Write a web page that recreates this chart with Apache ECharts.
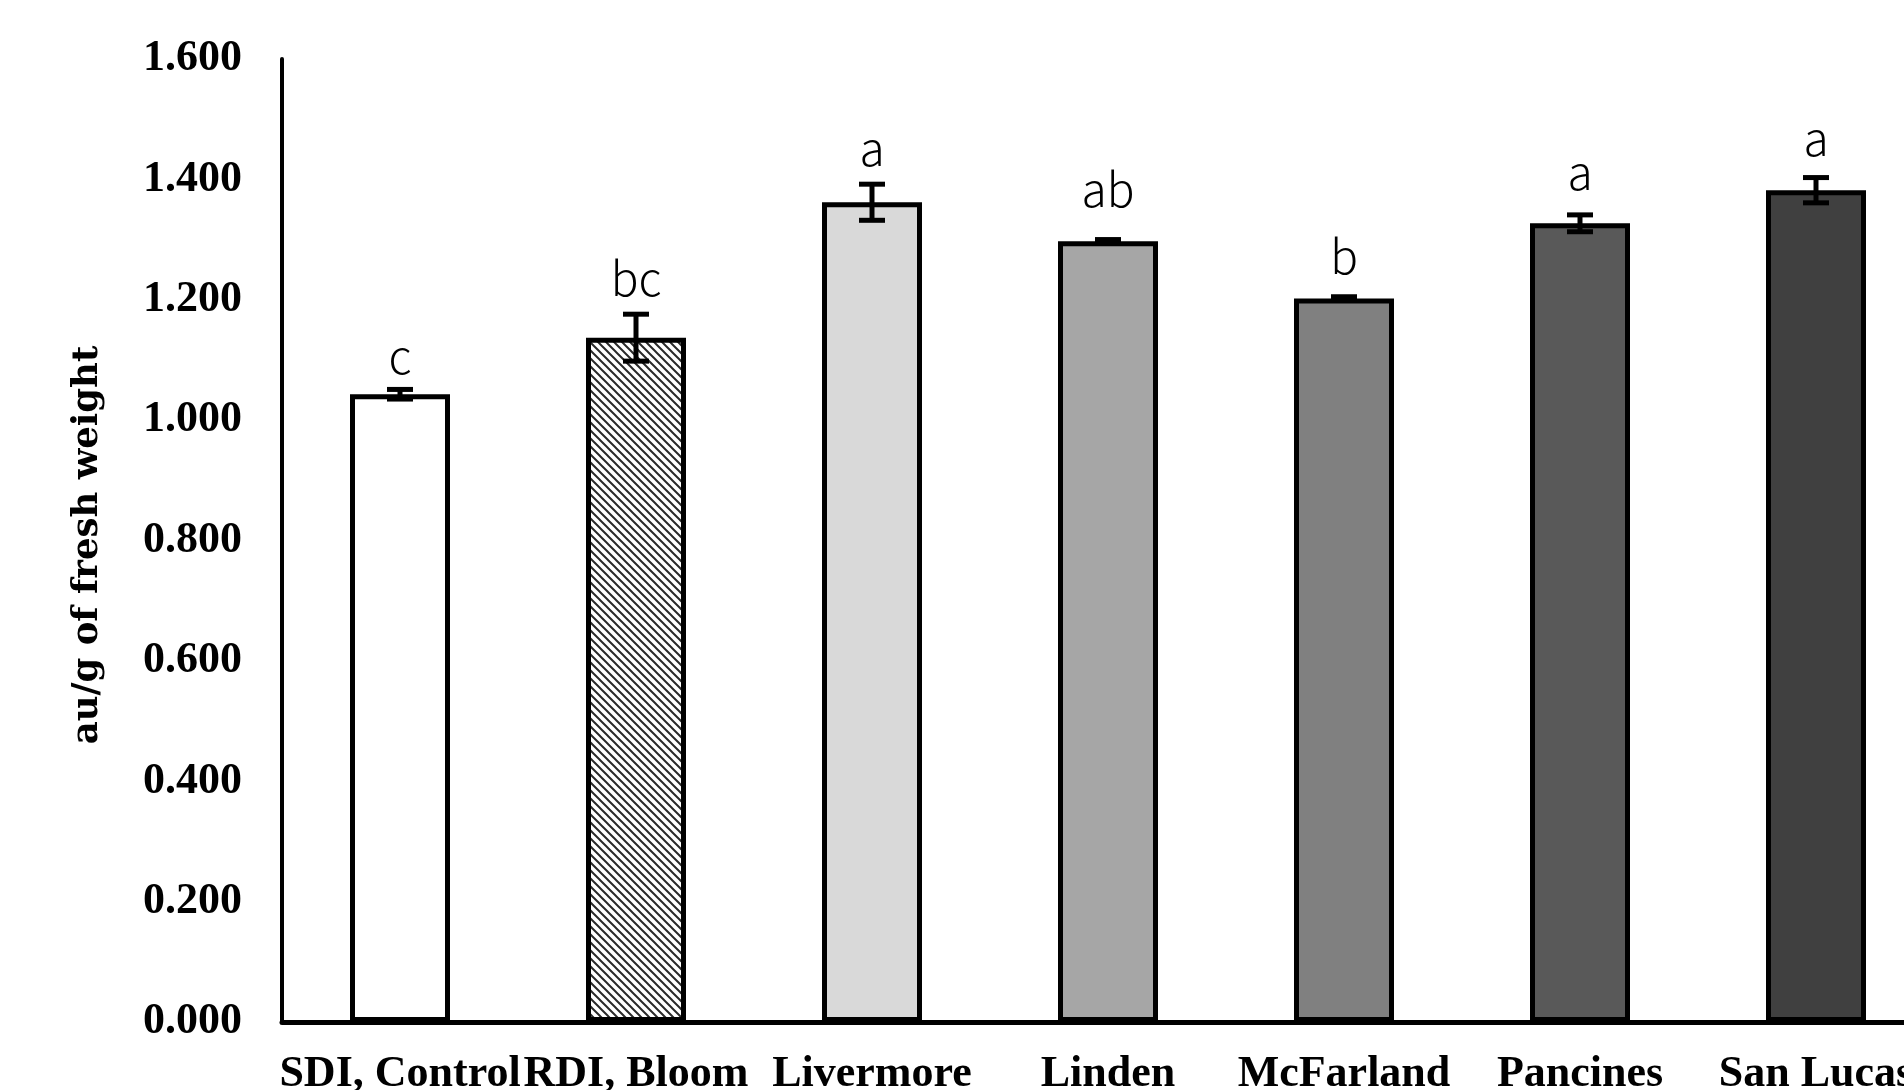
<!DOCTYPE html>
<html>
<head>
<meta charset="utf-8">
<script src="https://cdn.jsdelivr.net/npm/echarts@6/dist/echarts.min.js"></script>
<style>
html,body{margin:0;padding:0;background:#fff;}
#chart{width:1904px;height:1090px;}
</style>
</head>
<body>
<div id="chart"></div>
<script>
const categories = ['SDI, Control', 'RDI, Bloom', 'Livermore', 'Linden', 'McFarland', 'Pancines', 'San Lucas'];
const means = [1.043, 1.137, 1.362, 1.297, 1.202, 1.327, 1.382];
const errors = [0.008, 0.039, 0.030, 0.003, 0.003, 0.014, 0.021];
const letters = ['c', 'bc', 'a', 'ab', 'b', 'a', 'a'];
const yMin = 0, yMax = 1.6, yInterval = 0.2;
const yTitle = 'au/g of fresh weight';

const barFills = ['#ffffff', 'hatch', '#d9d9d9', '#a6a6a6', '#808080', '#595959', '#404040'];
// extra lift (px) of each significance letter above its error bar, as placed in the original
const letterLift = [-2, 1, 1, 15, 5, 7, 4];

function makeHatch() {
  const c = document.createElement('canvas');
  c.width = 8; c.height = 8;
  const g = c.getContext('2d');
  g.fillStyle = '#ffffff';
  g.fillRect(0, 0, 8, 8);
  g.strokeStyle = '#2a2a2a';
  g.lineWidth = 2;
  g.beginPath();
  g.moveTo(-1, -1); g.lineTo(9, 9);
  g.moveTo(-1, 7); g.lineTo(1, 9);
  g.moveTo(7, -1); g.lineTo(9, 1);
  g.stroke();
  return c;
}
const hatch = makeHatch();

const chart = echarts.init(document.getElementById('chart'), null, {renderer: 'canvas'});

const barData = means.map((v, i) => ({
  value: v,
  itemStyle: {
    color: barFills[i] === 'hatch' ? {image: hatch, repeat: 'repeat'} : barFills[i]
  }
}));

const errData = means.map((v, i) => [i, v, errors[i]]);

chart.setOption({
  animation: false,
  backgroundColor: '#ffffff',
  grid: {left: 282, top: 59, height: 963, width: 1652, containLabel: false, outerBoundsMode: 'none'},
  xAxis: {
    type: 'category',
    data: categories,
    axisLine: {lineStyle: {color: '#000', width: 5}},
    axisTick: {show: false},
    axisLabel: {
      interval: 0,
      margin: 31,
      color: '#000',
      fontFamily: 'Liberation Serif',
      fontWeight: 'bold',
      fontSize: 44
    }
  },
  yAxis: {
    type: 'value',
    min: yMin, max: yMax, interval: yInterval,
    splitLine: {show: false},
    axisLine: {show: true, lineStyle: {color: '#000', width: 4}},
    axisTick: {show: false},
    axisLabel: {
      margin: 40,
      color: '#000',
      fontFamily: 'Liberation Serif',
      fontWeight: 'bold',
      fontSize: 44,
      formatter: v => v.toFixed(3)
    }
  },
  graphic: [{
    type: 'text',
    x: 88, y: 545,
    rotation: Math.PI / 2,
    style: {
      text: yTitle,
      fill: '#000',
      font: 'bold 35.5px "DejaVu Serif"',
      align: 'center',
      verticalAlign: 'middle'
    }
  }],
  series: [
    {
      type: 'bar',
      data: barData,
      barWidth: 100,
      itemStyle: {borderColor: '#000', borderWidth: 5},
      z: 2
    },
    {
      type: 'custom',
      data: errData,
      z: 3,
      renderItem: function (params, api) {
        const i = api.value(0), v = api.value(1), e = api.value(2);
        const top = api.coord([i, v + e]);
        const bot = api.coord([i, v - e]);
        const x = top[0];
        const hw = 13;
        const st = {stroke: '#000', lineWidth: 5};
        return {
          type: 'group',
          children: [
            {type: 'line', shape: {x1: x, y1: top[1], x2: x, y2: bot[1]}, style: st},
            {type: 'line', shape: {x1: x - hw, y1: top[1], x2: x + hw, y2: top[1]}, style: st},
            {type: 'line', shape: {x1: x - hw, y1: bot[1], x2: x + hw, y2: bot[1]}, style: st},
            {type: 'text', x: x, y: top[1] - 12 - letterLift[params.dataIndex],
              style: {text: letters[params.dataIndex], fill: '#000',
                font: '300 46px "Noto Sans CJK JP"', align: 'center', verticalAlign: 'bottom'}}
          ]
        };
      }
    }
  ]
});
</script>
</body>
</html>
